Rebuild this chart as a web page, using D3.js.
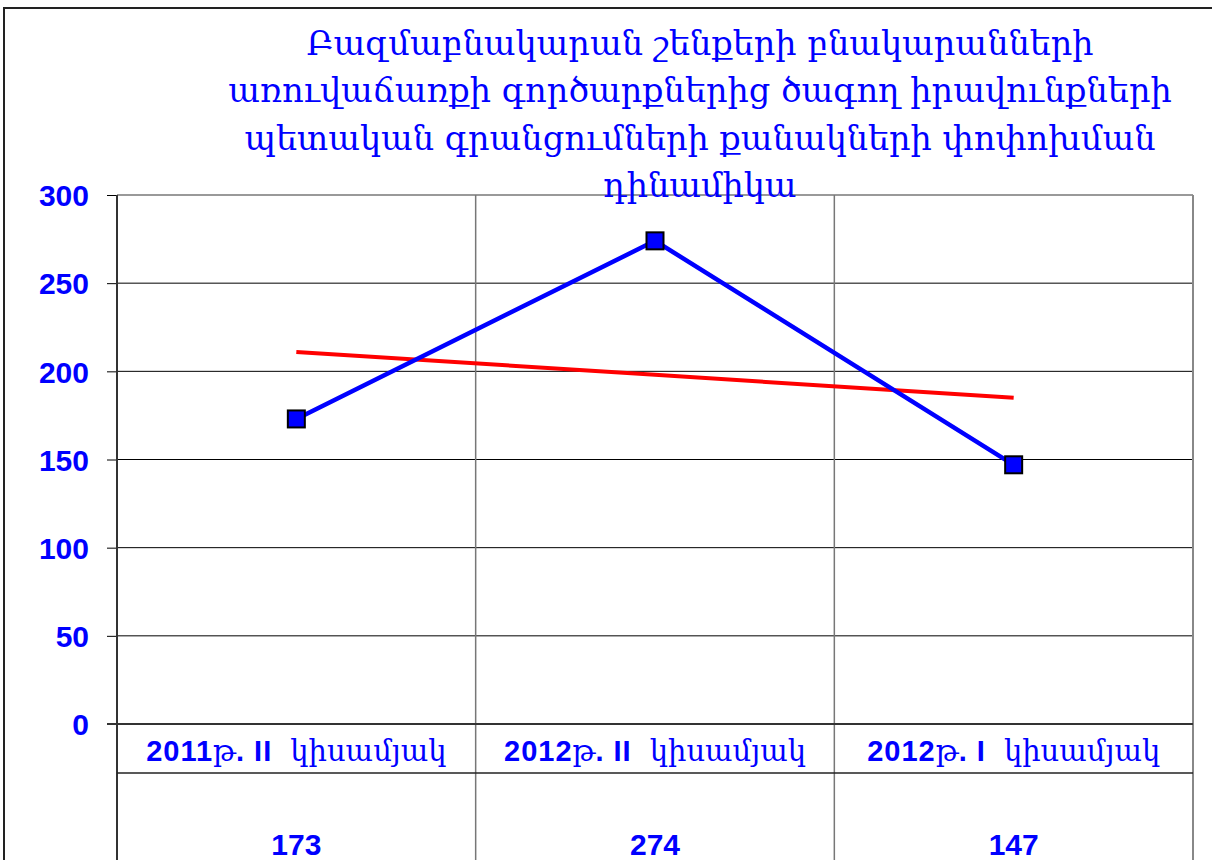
<!DOCTYPE html>
<html lang="hy">
<head>
<meta charset="UTF-8">
<title>Դինամիկա</title>
<style>
  body { margin: 0; background: #fff; }
  .tick-label, .cat-label, .val-label {
    font-family: Arial, "Liberation Sans", "DejaVu Sans", sans-serif;
    font-weight: bold;
    fill: #0000ff;
  }
  .arm {
    font-family: "DejaVu Serif", serif;
    font-weight: normal;
  }
  .title {
    font-family: "DejaVu Serif", serif;
    fill: #0000ff;
  }
</style>
</head>
<body>
<div id="chart"></div>
<script src="https://cdn.jsdelivr.net/npm/d3@7"></script>
<script>
// data
const categories = ["2011թ. II  կիսամյակ", "2012թ. II  կիսամյակ", "2012թ. I  կիսամյակ"];
const values = [173, 274, 147];
const trend = [211, 198, 185];
const yTicks = [0, 50, 100, 150, 200, 250, 300];
const titleLines = [
  "Բազմաբնակարան շենքերի բնակարանների",
  "առուվաճառքի գործարքներից ծագող իրավունքների",
  "պետական գրանցումների քանակների փոփոխման",
  "դինամիկա"
];

const W = 1212, H = 860;
const plot = {left: 117, right: 1193, top: 195, bottom: 724};
const tableRow = 773;

const svg = d3.select("#chart").append("svg")
  .attr("width", W).attr("height", H);

// outer frame
svg.append("rect")
  .attr("x", 4).attr("y", 8)
  .attr("width", W + 20).attr("height", H + 20)
  .attr("fill", "none").attr("stroke", "#222").attr("stroke-width", 2);

const x = d3.scaleBand().domain(categories).range([plot.left, plot.right]);
const y = d3.scaleLinear().domain([0, 300]).range([plot.bottom, plot.top]);
const cx = (d, i) => x(categories[i]) + x.bandwidth() / 2;

// horizontal grid
svg.append("g").selectAll("line")
  .data(yTicks.filter(d => d > 0 && d < 300))
  .join("line")
  .attr("x1", plot.left).attr("x2", plot.right)
  .attr("y1", d => y(d)).attr("y2", d => y(d))
  .attr("stroke", "#000").attr("stroke-width", 1);

// top plot border (gray)
svg.append("line")
  .attr("x1", plot.left).attr("x2", plot.right)
  .attr("y1", y(300)).attr("y2", y(300))
  .attr("stroke", "#999").attr("stroke-width", 2);

// vertical category separators, through the table
svg.append("g").selectAll("line")
  .data(categories.slice(1).map(c => x(c)))
  .join("line")
  .attr("x1", d => d).attr("x2", d => d)
  .attr("y1", plot.top).attr("y2", H)
  .attr("stroke", "#777").attr("stroke-width", 1.5);

// right border
svg.append("line")
  .attr("x1", plot.right).attr("x2", plot.right)
  .attr("y1", plot.top).attr("y2", H)
  .attr("stroke", "#888").attr("stroke-width", 2);

// y axis
const yAxis = svg.append("g")
  .attr("transform", `translate(${plot.left},0)`)
  .call(d3.axisLeft(y).tickValues(yTicks).tickSize(10).tickPadding(18));
yAxis.select(".domain").remove();
yAxis.selectAll(".tick line").attr("stroke", "#000");
yAxis.selectAll(".tick text")
  .attr("class", "tick-label")
  .style("font-size", "30px")
  .attr("dy", "0.36em");

// left axis line through table
svg.append("line")
  .attr("x1", plot.left).attr("x2", plot.left)
  .attr("y1", plot.top).attr("y2", H)
  .attr("stroke", "#333").attr("stroke-width", 2);

// zero line / table top
svg.append("line")
  .attr("x1", plot.left - 10).attr("x2", plot.right)
  .attr("y1", y(0)).attr("y2", y(0))
  .attr("stroke", "#333").attr("stroke-width", 2);

// table row separator
svg.append("line")
  .attr("x1", plot.left).attr("x2", plot.right)
  .attr("y1", tableRow).attr("y2", tableRow)
  .attr("stroke", "#222").attr("stroke-width", 1.5);

// category labels: latin/digits bold sans, armenian letters serif
const isArm = t => /[\u0530-\u058F]/.test(t);
const runs = s => s.match(/[\u0530-\u058F]+|[^\u0530-\u058F]+/g);
const cat = svg.append("g").selectAll("text")
  .data(categories)
  .join("text")
  .attr("class", "cat-label")
  .attr("x", d => x(d) + x.bandwidth() / 2)
  .attr("y", 761)
  .attr("text-anchor", "middle")
  .attr("xml:space", "preserve")
  .style("white-space", "pre")
  .style("font-size", "29px");
cat.selectAll("tspan")
  .data(d => runs(d))
  .join("tspan")
  .attr("class", t => isArm(t) ? "arm" : null)
  .style("letter-spacing", t => isArm(t) ? "0px" : "1px")
  .text(t => t);

// values row
svg.append("g").selectAll("text")
  .data(values)
  .join("text")
  .attr("class", "val-label")
  .attr("x", cx)
  .attr("y", 855)
  .attr("text-anchor", "middle")
  .style("font-size", "30px")
  .text(d => d);

// trend line
svg.append("path")
  .datum(trend)
  .attr("fill", "none")
  .attr("stroke", "#ff0000")
  .attr("stroke-width", 4)
  .attr("d", d3.line().x(cx).y(d => y(d)));

// data line
svg.append("path")
  .datum(values)
  .attr("fill", "none")
  .attr("stroke", "#0000ff")
  .attr("stroke-width", 4.5)
  .attr("d", d3.line().x(cx).y(d => y(d)));

// markers
svg.append("g").selectAll("rect")
  .data(values)
  .join("rect")
  .attr("x", (d, i) => cx(d, i) - 8.5)
  .attr("y", d => y(d) - 8.5)
  .attr("width", 17).attr("height", 17)
  .attr("fill", "#0000ff")
  .attr("stroke", "#000").attr("stroke-width", 2);

// title
svg.append("g").selectAll("text")
  .data(titleLines)
  .join("text")
  .attr("class", "title")
  .attr("x", 700)
  .attr("y", (d, i) => 55 + i * 47.3)
  .attr("text-anchor", "middle")
  .style("font-size", "33.5px")
  .text(d => d);
</script>
</body>
</html>
